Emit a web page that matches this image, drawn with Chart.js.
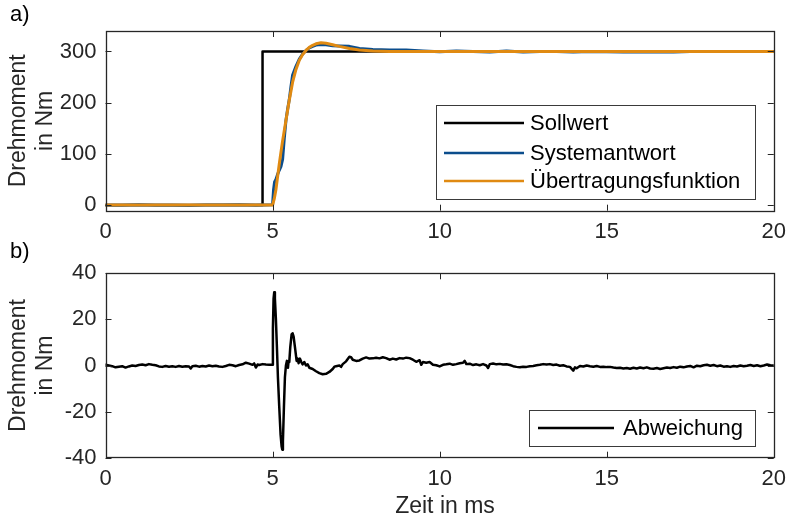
<!DOCTYPE html>
<html>
<head>
<meta charset="utf-8">
<script src="https://cdn.jsdelivr.net/npm/chart.js@4.4.1/dist/chart.umd.min.js"></script>
<style>
  body { margin: 0; background: #fff; }
  #wrap { position: relative; width: 794px; height: 517px; }
  canvas { position: absolute; left: 0; }
</style>
</head>
<body>
<div id="wrap">
  <canvas id="topChart" width="794" height="250" style="top:0"></canvas>
  <canvas id="botChart" width="794" height="287" style="top:230px"></canvas>
</div>
<script>
// --- data ---
const xTicks = [0, 5, 10, 15, 20];
const yTicksTop = [0, 100, 200, 300];
const yTicksBot = [-40, -20, 0, 20, 40];

const tSoll = [0, 4.7, 4.7, 20];
const soll = [0, 0, 300, 300];

const tFit = [0, 5.0, 5.05, 5.1, 5.15, 5.2, 5.25, 5.3, 5.35, 5.4, 5.45, 5.5, 5.6, 5.7, 5.8, 5.9, 6.0, 6.1, 6.2, 6.3, 6.45, 6.6, 6.8, 7.0, 7.3, 7.6, 8.0, 8.5, 9.0, 20];
const fit = [0, 0, 12, 30, 55, 80, 103, 125, 145, 165, 185, 205, 240, 265, 283, 294, 302, 308, 312, 315, 317, 316, 313, 310, 306, 303, 301, 300, 300, 300];

const tSys = [0, 0.5, 1, 1.5, 2, 2.5, 3, 3.5, 4, 4.5, 5.0, 5.03, 5.06, 5.1, 5.15, 5.2, 5.25, 5.3, 5.35, 5.4, 5.45, 5.5, 5.55, 5.6, 5.7, 5.8, 5.9, 6.0, 6.1, 6.2, 6.3, 6.45, 6.6, 6.8, 7.0, 7.3, 7.6, 8.0, 8.5, 9.0, 9.5, 10, 10.5, 11, 11.5, 12, 12.5, 13, 13.5, 14, 14.5, 15, 15.5, 16, 16.5, 17, 17.5, 18, 18.5, 19, 19.5, 20];
const sys = [-0.5, -0.5, 0.5, -0.5, -0.5, -1, 0, 0, 0.5, -0.5, 0.5, 30, 45, 50, 60, 68, 75, 89, 130, 165, 187, 206, 231, 254, 271, 285, 295, 302, 307, 310, 312.5, 313.5, 313, 311, 310.5, 310, 306, 304, 303, 303, 301, 299.5, 301, 300, 299, 301, 299, 300, 300, 299, 300, 299.5, 299, 299, 299, 299, 300, 300, 300, 300, 300, 300];

const tDev = [0, 0.1, 0.2, 0.3, 0.4, 0.5, 0.6, 0.7, 0.8, 0.9, 1.0, 1.1, 1.2, 1.3, 1.4, 1.5, 1.6, 1.7, 1.8, 1.9,
  2.0, 2.1, 2.2, 2.3, 2.4, 2.5, 2.55, 2.6, 2.7, 2.8, 2.9, 3.0, 3.1, 3.2, 3.3, 3.4, 3.5, 3.6, 3.7, 3.8, 3.9,
  4.0, 4.1, 4.2, 4.3, 4.4, 4.45, 4.5, 4.55, 4.6, 4.7, 4.8, 4.9, 5.0, 5.01, 5.03, 5.05, 5.07, 5.1, 5.13, 5.16,
  5.2, 5.24, 5.27, 5.29, 5.31, 5.34, 5.37, 5.4, 5.43, 5.46, 5.48, 5.5, 5.53, 5.57, 5.6, 5.63, 5.67, 5.72,
  5.75, 5.78, 5.82, 5.86, 5.9, 5.95, 6.0, 6.05, 6.1, 6.2, 6.3, 6.4, 6.5, 6.6, 6.7, 6.8, 6.85, 6.9, 7.0, 7.05,
  7.1, 7.2, 7.3, 7.35, 7.4, 7.5, 7.6, 7.7, 7.8, 7.9, 8.0, 8.1, 8.2, 8.3, 8.4, 8.5, 8.6, 8.7, 8.8, 8.9,
  9.0, 9.1, 9.2, 9.3, 9.4, 9.45, 9.5, 9.6, 9.7, 9.8, 9.9, 10.0, 10.1, 10.2, 10.3, 10.4, 10.5, 10.6, 10.7, 10.75,
  10.8, 10.9, 11.0, 11.1, 11.2, 11.3, 11.4, 11.45, 11.5, 11.6, 11.7, 11.8, 11.9, 12.0, 12.1, 12.2, 12.3, 12.4,
  12.5, 12.6, 12.7, 12.8, 12.9, 13.0, 13.1, 13.2, 13.3, 13.4, 13.5, 13.6, 13.7, 13.8, 13.9, 14.0, 14.05, 14.1,
  14.2, 14.3, 14.4, 14.5, 14.6, 14.7, 14.8, 14.9, 15.0, 15.1, 15.2, 15.3, 15.4, 15.5, 15.6, 15.7, 15.8, 15.9,
  16.0, 16.1, 16.2, 16.3, 16.4, 16.5, 16.6, 16.7, 16.8, 16.9, 17.0, 17.1, 17.2, 17.3, 17.4, 17.5, 17.6, 17.7,
  17.8, 17.9, 18.0, 18.1, 18.2, 18.3, 18.4, 18.5, 18.6, 18.7, 18.8, 18.9, 19.0, 19.1, 19.2, 19.3, 19.4, 19.5,
  19.6, 19.7, 19.8, 19.9, 20.0];
const dev = [0.3, 0, -0.3, -0.8, -0.5, -0.3, -0.9, -0.4, 0, -0.2, 0.2, 0.4, 0.1, 0.6, 0.3, 0.1, -0.4, -0.6, -0.2, -0.5,
  -0.3, -0.6, -0.2, -0.5, -0.3, -0.4, -1.3, -0.3, -0.1, -0.5, -0.2, -0.4, 0, -0.3, -0.1, -0.4, -0.6, -0.2, 0.3, 0.1, -0.3,
  0.2, 0.5, 1.2, 0.8, 0.3, 0.9, -0.9, 0.4, 0.2, 0.6, 0.4, 0.3, 0.3, 16, 29, 31.8, 29, 20, 8, -5,
  -18, -30, -35, -36.5, -33, -18, -5, 0, 2, -1, 2, 1.5, 8, 13.5, 14, 12.5, 8, 2,
  3, 1, 3, 1.5, 0.5, 1.5, 0, 0.5, -1, -1.5, -2.5, -3.3, -3.8, -3.6, -2.8, -1.5, -0.5, -0.3, 0, -0.6,
  0.6, 1.8, 3.8, 3.6, 2.5, 2, 2.2, 3, 3.5, 3, 3.1, 3.4, 3.1, 3.6, 3.2, 2.5, 3, 2.6, 3.2, 3,
  3.4, 3.2, 2.5, 1.6, 2.3, 0.3, 1.5, 1.2, 1.5, 0.3, 0.1, -0.4, 0.3, 0.5, 0.8, 0.3, 0.6, 1.0, 1.2, 2,
  0.6, 0.8, 0.2, 0.5, 0.1, 0.6, 0, -1.1, 0.6, 0.9, 0.5, 0.7, 0.4, 0.5, 0.2, -0.3, -0.6, -0.8,
  -0.5, -0.6, -0.3, -0.2, 0.1, 0.3, 0.6, 0.4, 0.6, 0.2, 0.4, -0.1, 0.1, -0.4, -0.6, -2.2, -0.8, -1.2,
  -0.2, -0.4, 0, -0.3, -0.5, -0.2, -0.6, -0.5, -0.7, -0.6, -0.9, -1.1, -1.0, -1.3, -1.1, -1.4, -1.0, -1.3,
  -0.9, -1.2, -0.8, -1.3, -1.4, -1.1, -1.5, -1.2, -0.9, -1.1, -0.7, -1.0, -0.5, -0.8, -0.4, -0.2, -0.8, -0.1,
  -0.3, 0.1, 0.3, -0.1, 0.2, -0.3, 0, -0.5, -0.3, -0.6, -0.2, -0.4, 0, -0.3, -0.1, 0.2, -0.2, 0.1,
  -0.3, 0, 0.4, 0.1, 0];

const FONT = '"Liberation Sans", Arial, sans-serif';
const AXIS = '#262626';
const BLUE = '#0b4d8c';
const ORANGE = '#e08a12';

function pts(xs, ys) {
  return xs.map((x, i) => ({ x: x, y: ys[i] }));
}

// box with inward ticks, legend, titles
const matlabBox = {
  id: 'matlabBox',
  afterDraw(chart, args, opts) {
    const ctx = chart.ctx;
    const a = chart.chartArea;
    const xs = chart.scales.x, ys = chart.scales.y;
    const tl = 6;
    ctx.save();
    ctx.strokeStyle = AXIS;
    ctx.lineWidth = 1;
    ctx.beginPath();
    opts.xt.forEach(v => {
      const px = Math.round(xs.getPixelForValue(v)) + 0.5;
      ctx.moveTo(px, a.bottom); ctx.lineTo(px, a.bottom - tl);
      ctx.moveTo(px, a.top); ctx.lineTo(px, a.top + tl);
    });
    opts.yt.forEach(v => {
      const py = Math.round(ys.getPixelForValue(v)) + 0.5;
      ctx.moveTo(a.left, py); ctx.lineTo(a.left + tl, py);
      ctx.moveTo(a.right, py); ctx.lineTo(a.right - tl, py);
    });
    ctx.stroke();
    ctx.lineWidth = 1.3;
    ctx.strokeRect(Math.round(a.left) + 0.5, Math.round(a.top) + 0.5,
      Math.round(a.right - a.left), Math.round(a.bottom - a.top));

    // legend
    const lg = opts.legend;
    ctx.fillStyle = '#fff';
    ctx.fillRect(lg.x, lg.y, lg.w, lg.h);
    ctx.strokeStyle = '#3a3a3a';
    ctx.lineWidth = 1;
    ctx.strokeRect(lg.x + 0.5, lg.y + 0.5, lg.w, lg.h);
    ctx.font = '22px ' + FONT;
    ctx.textBaseline = 'middle';
    ctx.textAlign = 'left';
    lg.items.forEach((it, i) => {
      const y = lg.rows[i];
      ctx.strokeStyle = it.color;
      ctx.lineWidth = 2.5;
      ctx.beginPath();
      ctx.moveTo(lg.x0, y); ctx.lineTo(lg.x1, y);
      ctx.stroke();
      ctx.fillStyle = '#000';
      ctx.fillText(it.text, lg.tx, y + 1);
    });

    // panel letter and y title
    ctx.fillStyle = '#000';
    ctx.font = '22px ' + FONT;
    ctx.fillText(opts.letter, 10, opts.letterY);
    ctx.fillStyle = AXIS;
    ctx.font = '23px ' + FONT;
    ctx.textAlign = 'center';
    const cy = (a.top + a.bottom) / 2;
    ctx.translate(0, cy);
    ctx.rotate(-Math.PI / 2);
    ctx.fillText('Drehmoment', 0, 19);
    ctx.fillText('in Nm', 0, 46);
    ctx.restore();

    if (opts.xTitle) {
      ctx.save();
      ctx.fillStyle = AXIS;
      ctx.font = '23px ' + FONT;
      ctx.textAlign = 'center';
      ctx.textBaseline = 'middle';
      ctx.fillText(opts.xTitle, 445, opts.xTitleY);
      ctx.restore();
    }
  }
};

function axisOpts(min, max, ticks, xHeight) {
  return {
    x: {
      type: 'linear', min: 0, max: 20,
      afterBuildTicks: s => { s.ticks = xTicks.map(v => ({ value: v })); },
      afterFit: s => { s.height = xHeight; },
      grid: { display: false, drawTicks: false },
      border: { display: false },
      ticks: { color: AXIS, font: { family: FONT, size: 22 }, padding: 8, maxRotation: 0 }
    },
    y: {
      type: 'linear', min: min, max: max,
      afterBuildTicks: s => { s.ticks = ticks.map(v => ({ value: v })); },
      afterFit: s => { s.width = 105.5; },
      grid: { display: false, drawTicks: false },
      border: { display: false },
      ticks: { color: AXIS, font: { family: FONT, size: 22 }, padding: 9 }
    }
  };
}

const lineDs = (label, data, color, width, order) => ({
  label, data, borderColor: color, borderWidth: width, pointRadius: 0,
  borderJoinStyle: 'round', borderCapStyle: 'round',
  tension: 0, fill: false, order
});

new Chart(document.getElementById('topChart'), {
  type: 'line',
  data: {
    datasets: [
      lineDs('Übertragungsfunktion', pts(tFit, fit), ORANGE, 3, 0),
      lineDs('Systemantwort', pts(tSys, sys), BLUE, 3, 1),
      lineDs('Sollwert', pts(tSoll, soll), '#000', 2.5, 2)
    ]
  },
  options: {
    responsive: false, animation: false,
    layout: { padding: { top: 31, right: 17, left: 0, bottom: 0 } },
    scales: axisOpts(-11, 340, yTicksTop, 39.3),
    plugins: {
      legend: { display: false }, tooltip: { enabled: false },
      matlabBox: {
        xt: xTicks, yt: yTicksTop, letter: 'a)', letterY: 15,
        legend: {
          x: 436, y: 105, w: 319, h: 94, x0: 444, x1: 524, tx: 530,
          rows: [123, 153, 181],
          items: [
            { text: 'Sollwert', color: '#000' },
            { text: 'Systemantwort', color: BLUE },
            { text: 'Übertragungsfunktion', color: ORANGE }
          ]
        }
      }
    }
  },
  plugins: [matlabBox]
});

// bottom canvas starts at page y = 230
new Chart(document.getElementById('botChart'), {
  type: 'line',
  data: {
    datasets: [lineDs('Abweichung', pts(tDev, dev), '#000', 2.5, 0)]
  },
  options: {
    responsive: false, animation: false,
    layout: { padding: { top: 43.3, right: 17, left: 0, bottom: 0 } },
    scales: axisOpts(-40, 40, yTicksBot, 59.3),
    plugins: {
      legend: { display: false }, tooltip: { enabled: false },
      matlabBox: {
        xt: xTicks, yt: yTicksBot, letter: 'b)', letterY: 22,
        xTitle: 'Zeit in ms', xTitleY: 277,
        legend: {
          x: 529, y: 180, w: 226, h: 36, x0: 538, x1: 614, tx: 623,
          rows: [198],
          items: [{ text: 'Abweichung', color: '#000' }]
        }
      }
    }
  },
  plugins: [matlabBox]
});
</script>
</body>
</html>
